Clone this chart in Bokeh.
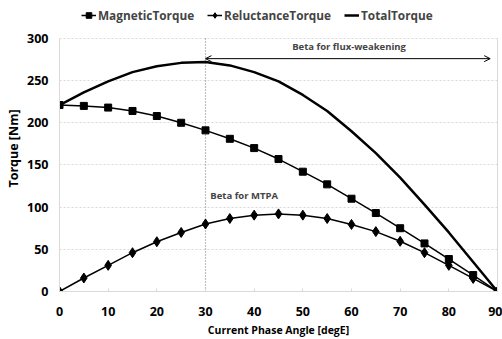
from bokeh.plotting import figure
from bokeh.models import Range1d, Legend, LegendItem, Arrow, OpenHead, Label, FixedTicker, LinearAxis
from bokeh.embed import file_html
from bokeh.resources import INLINE

angle = [0, 5, 10, 15, 20, 25, 30, 35, 40, 45, 50, 55, 60, 65, 70, 75, 80, 85, 90]
magnetic = [221, 220, 218, 214, 208, 200, 191, 181, 170, 157, 142, 127, 110, 93, 75, 57, 38.5, 19.5, 0]
reluctance = [0, 16, 31, 46, 59, 70, 80, 86.5, 90.5, 92, 90.5, 86.5, 79.5, 71, 59.5, 46, 31, 15.5, 0]
total = [221, 236, 249, 260, 267, 271, 272, 268, 260, 249, 233, 214, 190, 164, 135, 103, 70, 35, 0]
x_ticks = [0, 10, 20, 30, 40, 50, 60, 70, 80, 90]
y_ticks = [0, 50, 100, 150, 200, 250, 300]

x_min, x_max = 0, 90
y_min, y_max = 0, 300
y_view_max = 339
mtpa_angle = 30
fw_end = 88.5
fw_arrow_y = 276
fw_label = "Beta for flux-weakening"
fw_label_pos = (59.5, 283)
mtpa_label = "Beta for MTPA"
mtpa_label_pos = (31, 106)

FONT = "Open Sans"
GRID = "#d9d9d9"

p = figure(frame_width=438, frame_height=286, output_backend="svg", toolbar_location=None,
           x_range=Range1d(x_min, x_max), y_range=Range1d(y_min, y_view_max),
           min_border_left=59, min_border_right=5, min_border_top=5, min_border_bottom=39)

p.outline_line_color = None
p.xgrid.grid_line_color = None
p.ygrid.grid_line_color = GRID
p.ygrid.grid_line_dash = "2 2"

p.xaxis.ticker = FixedTicker(ticks=x_ticks)
p.yaxis.ticker = FixedTicker(ticks=y_ticks)
p.yaxis.bounds = (y_min, y_max)
for ax in (p.xaxis[0], p.yaxis[0]):
    ax.axis_line_color = GRID
    ax.major_tick_line_color = None
    ax.major_tick_in = 0
    ax.major_tick_out = 0
    ax.minor_tick_line_color = None
    ax.minor_tick_in = 0
    ax.minor_tick_out = 0
    ax.major_label_text_font = FONT
    ax.major_label_text_font_style = "bold"
    ax.major_label_text_font_size = "12.5px"
    ax.major_label_text_color = "#000000"
    ax.axis_label_text_font = FONT
    ax.axis_label_text_font_style = "bold"
    ax.axis_label_text_color = "#000000"
p.xaxis.major_tick_line_color = GRID
p.xaxis.major_tick_in = 3
p.xaxis.axis_label = "Current Phase Angle [degE]"
p.yaxis.axis_label = "Torque [Nm]"
p.xaxis.axis_label_text_font_size = "10.5px"
p.yaxis.axis_label_text_font_size = "12.5px"
p.xaxis.major_label_standoff = 15
p.yaxis.major_label_standoff = 11
p.xaxis.axis_label_standoff = 4
p.yaxis.axis_label_standoff = 2

# right border of the plot area (0..300 only)
right_border = LinearAxis(ticker=FixedTicker(ticks=[]), bounds=(y_min, y_max),
                          axis_line_color=GRID, major_tick_in=0, major_tick_out=0,
                          minor_tick_in=0, minor_tick_out=0, major_label_standoff=0)
p.add_layout(right_border, "right")

# MTPA marker line (dotted, from 0 to 300)
p.segment(x0=[mtpa_angle], y0=[y_min], x1=[mtpa_angle], y1=[y_max],
          line_color="#808080", line_dash="1 2", line_width=1.2)

lm = p.line(angle, magnetic, line_color="black", line_width=1.5)
sm = p.scatter(angle, magnetic, marker="square", size=7, color="black")
lr = p.line(angle, reluctance, line_color="black", line_width=1.5)
sr = p.scatter(angle, reluctance, marker="diamond", size=10, color="black")
lt = p.line(angle, total, line_color="black", line_width=2.5)

p.add_layout(Arrow(x_start=mtpa_angle, y_start=fw_arrow_y, x_end=fw_end, y_end=fw_arrow_y,
                   line_color="black", line_width=1,
                   start=OpenHead(size=6, line_width=1), end=OpenHead(size=6, line_width=1)))
p.add_layout(Label(x=fw_label_pos[0], y=fw_label_pos[1], text=fw_label, text_align="center",
                   text_font=FONT, text_font_style="bold", text_font_size="9.5px"))
p.add_layout(Label(x=mtpa_label_pos[0], y=mtpa_label_pos[1], text=mtpa_label,
                   text_font=FONT, text_font_style="bold", text_font_size="9.5px"))

legend = Legend(items=[LegendItem(label="MagneticTorque", renderers=[lm, sm]),
                       LegendItem(label="ReluctanceTorque", renderers=[lr, sr]),
                       LegendItem(label="TotalTorque", renderers=[lt])],
                orientation="horizontal", location=(22, 268),
                label_text_font=FONT, label_text_font_style="bold", label_text_font_size="11.8px",
                glyph_width=15, glyph_height=14, label_standoff=2, spacing=13,
                padding=0, margin=0, border_line_color=None, background_fill_alpha=0)
p.add_layout(legend, "center")

open("out.html", "w").write(file_html(p, INLINE))
